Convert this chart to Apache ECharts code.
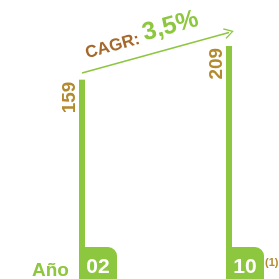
<!DOCTYPE html>
<html>
<head>
<meta charset="utf-8">
<script src="https://cdn.jsdelivr.net/npm/echarts@6/dist/echarts.min.js"></script>
<style>
  html, body { margin: 0; padding: 0; background: #fff; }
  #chart { width: 279px; height: 279px; }
</style>
</head>
<body>
<div id="chart"></div>
<script>
// datos
var categories = ['02', '10'];
var values = [159, 209];
var cagrLabel = 'CAGR: ';
var cagrValue = '3,5%';
var yearLabel = 'Año';
var footnote = '(1)';

var green = '#8dc63f';
var brown = '#a5692b';
var gold = '#b38b2e';
var font = '"Liberation Sans", Arial, sans-serif';

let setChart = function(ele, options) {
    let myChart = echarts.init(ele, null, { renderer: 'canvas' })
    myChart.setOption(options)
    return myChart
}

var options = {
    animation: false,
    backgroundColor: '#fff',
    grid: { left: 82, right: 50, top: 0, bottom: 92, outerBoundsMode: 'none' },
    xAxis: {
        type: 'category',
        data: categories,
        boundaryGap: false,
        axisLine: { show: false },
        axisTick: { show: true, length: 70, lineStyle: { color: green, width: 6 } },
        axisLabel: {
            margin: 70,
            align: 'left',
            padding: [0, 0, 0, -3],
            formatter: function (v, i) {
                return i === categories.length - 1 ? '{t|' + v + '}{s|' + footnote + '}' : '{t|' + v + '}'
            },
            rich: {
                t: {
                    color: '#fff', fontSize: 21, fontWeight: 'bold', fontFamily: font,
                    backgroundColor: green, width: 38, align: 'center',
                    lineHeight: 21, padding: [10, 0, 10, 0], borderRadius: [6, 9, 0, 0]
                },
                s: {
                    color: gold, fontSize: 11, fontWeight: 'bold', fontFamily: font,
                    verticalAlign: 'bottom', lineHeight: 11, padding: [0, 0, 10, 1]
                }
            }
        }
    },
    yAxis: { type: 'value', min: 0, max: 277, show: false, splitLine: { show: false } },
    series: [{
        type: 'bar',
        data: values,
        barWidth: 6,
        itemStyle: { color: green },
        label: {
            show: true, rotate: 90, position: [-9, 2], align: 'right', verticalAlign: 'middle',
            fontSize: 19, fontWeight: 'bold', color: gold, fontFamily: font
        },
        markLine: {
            silent: true,
            symbol: ['none', 'path://M0,10 L5,0 L10,10 L9,11 L5,2.5 L1,11 Z'],
            symbolSize: [11, 10],
            label: { show: false },
            lineStyle: { color: green, width: 1.5, type: 'solid' },
            data: [[{ coord: [0, values[0] + 10] }, { coord: [1, values[1] + 20] }]]
        }
    }],
    graphic: [
        {
            type: 'text', x: 88, y: 62, rotation: 0.27,
            style: {
                text: '{a|' + cagrLabel + '}{b|' + cagrValue + '}',
                align: 'left', verticalAlign: 'bottom',
                rich: {
                    a: { fontSize: 17, fontWeight: 'bold', fill: brown, fontFamily: font, lineHeight: 17, verticalAlign: 'bottom' },
                    b: { fontSize: 25, fontWeight: 'bold', fill: green, fontFamily: font, lineHeight: 25, verticalAlign: 'bottom' }
                }
            }
        },
        {
            type: 'text', x: 32, y: 261,
            style: { text: yearLabel, fontSize: 19, fontWeight: 'bold', fill: green, fontFamily: font, align: 'left', verticalAlign: 'top' }
        }
    ]
};

setChart(document.getElementById('chart'), options);
</script>
</body>
</html>
